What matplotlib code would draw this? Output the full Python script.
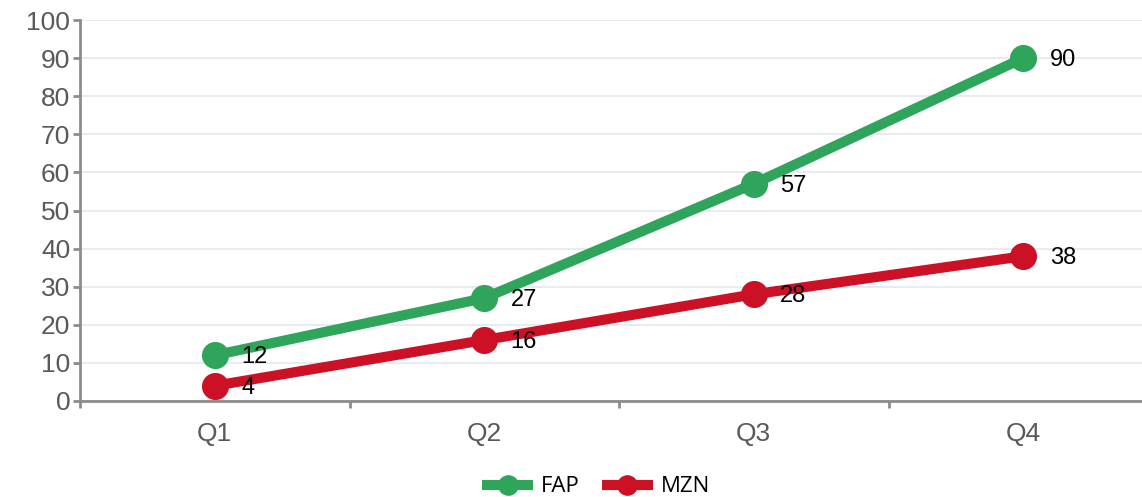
import matplotlib.pyplot as plt
import numpy as np

# data
quarters = ["Q1", "Q2", "Q3", "Q4"]
fap = [12, 27, 57, 90]
mzn = [4, 16, 28, 38]
y_ticks = [0, 10, 20, 30, 40, 50, 60, 70, 80, 90, 100]

green = "#2ea55b"
red = "#cc1127"
grey = "#8c8c8c"

fig = plt.figure(figsize=(11.42, 4.97), dpi=100)
ax = fig.add_axes([80 / 1142, 96 / 497, 1078 / 1142, 381 / 497])

x = np.arange(len(quarters))
for vals, col, name in [(fap, green, "FAP"), (mzn, red, "MZN")]:
    ax.plot(x, vals, color=col, lw=7.3, marker="o", ms=18.5, label=name,
            solid_capstyle="butt", clip_on=False, zorder=3)
    for xi, v in zip(x, vals):
        ax.annotate(str(v), (xi, v), xytext=(19, -1.5), textcoords="offset points",
                    ha="left", va="center", fontsize=17, color="black",
                    family="Liberation Sans", zorder=4)

ax.set_xlim(-0.5, 3.5)
ax.set_ylim(0, 100)
ax.set_yticks(y_ticks)
ax.set_xticks(x)
ax.set_xticklabels(quarters)
# ticks between the categories, incl. the left edge
ax.set_xticks(np.arange(-0.5, 3.5, 1), minor=True)

for s in ["top", "right"]:
    ax.spines[s].set_visible(False)
for s in ["left", "bottom"]:
    ax.spines[s].set_color(grey)
    ax.spines[s].set_linewidth(2)

ax.grid(axis="y", color="#e4e8f0", lw=1.2, zorder=0)
ax.set_axisbelow(True)

ax.tick_params(axis="y", length=5, width=2, color=grey, labelsize=19,
               labelcolor="#595959", pad=2)
ax.tick_params(axis="x", which="major", length=0, labelsize=19,
               labelcolor="#595959", pad=15)
ax.tick_params(axis="x", which="minor", length=5, width=2, color=grey)
for lab in ax.get_xticklabels() + ax.get_yticklabels():
    lab.set_family("Liberation Sans")

fig.legend(loc="center", bbox_to_anchor=(596 / 1142, 1 - 487 / 497), ncol=2,
           frameon=False, prop={"family": "Open Sans", "size": 16},
           handlelength=2.3, handletextpad=0.35, columnspacing=1.0,
           markerscale=0.75)

fig.savefig("out.png", dpi=100)
